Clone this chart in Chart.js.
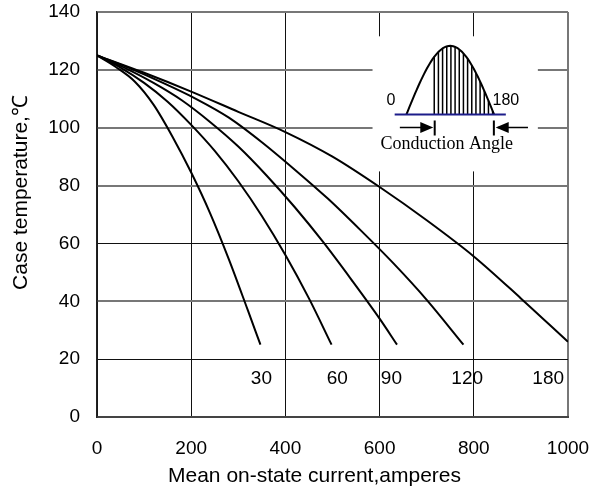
<!DOCTYPE html>
<html lang="en">
<head>
    <meta charset="UTF-8">
    <title>Case temperature vs mean on-state current</title>
    <script src="https://cdn.jsdelivr.net/npm/chart.js"></script>
    <style>
        body { margin: 0; background: #fff; }
        .chart-container { width: 599px; height: 488px; }
    </style>
</head>
<body>
    <div class="chart-container">
        <canvas id="myChart"></canvas>
    </div>
    <script>
        // conduction angles (degrees) and one current/temperature pair of arrays per curve
        const angles = ['30', '60', '90', '120', '180'];

        const current30 = [0, 40, 80, 120, 160, 200, 240, 280, 320, 347];
        const temp30    = [125, 121, 116, 108, 97, 84.5, 70.5, 54.5, 37, 25];

        const current60 = [0, 50, 100, 150, 200, 250, 300, 350, 400, 450, 498];
        const temp60    = [125, 120.8, 115.5, 109, 101, 92, 81.5, 69.5, 56, 41, 25];

        const current90 = [0, 60, 120, 180, 240, 300, 360, 420, 480, 540, 600, 637];
        const temp90    = [125, 120.6, 115.5, 109.5, 102, 93.5, 83.5, 72.5, 60.5, 47.5, 34, 25];

        const current120 = [0, 70, 140, 210, 280, 350, 420, 490, 560, 630, 700, 778];
        const temp120    = [125, 120.5, 115.5, 110, 103.5, 95, 85.5, 75.5, 64.5, 53, 40.5, 25];

        const current180 = [0, 100, 200, 300, 400, 500, 600, 700, 800, 900, 1000];
        const temp180    = [125, 119, 112.5, 105.5, 98.5, 90, 79.5, 68, 55.5, 41, 26];

        // where the angle labels sit under the curves
        const labelCurrent = [349, 510, 625, 786, 958];
        const labelTemp = 13.3;

        const xTicks = [0, 200, 400, 600, 800, 1000];
        const yTicks = [0, 20, 40, 60, 80, 100, 120, 140];

        const curves = [
            [current30, temp30],
            [current60, temp60],
            [current90, temp90],
            [current120, temp120],
            [current180, temp180]
        ];

        const datasets = curves.map((c, i) => ({
            label: angles[i] + '°',
            data: c[0].map((x, j) => ({ x: x, y: c[1][j] })),
            borderColor: '#000',
            borderWidth: 2,
            pointRadius: 0,
            fill: false,
            cubicInterpolationMode: 'monotone'
        }));

        const sans = "'Liberation Sans', Arial, sans-serif";

        // no extra room for the end labels, the plot edges are fixed by layout.padding
        function noPadding(scale) {
            scale.paddingTop = 0;
            scale.paddingBottom = 0;
            scale.paddingLeft = 0;
            scale.paddingRight = 0;
        }

        // inset sketch, angle labels and axis titles
        const overlay = {
            id: 'overlay',
            beforeDatasetsDraw(chart) {
                const ctx = chart.ctx;
                const X = v => chart.scales.x.getPixelForValue(v);
                const Y = v => chart.scales.y.getPixelForValue(v);
                ctx.save();
                // white box that hides the grid behind the sketch
                ctx.fillStyle = '#fff';
                ctx.fillRect(X(585), Y(131.6), X(936) - X(585), Y(84.9) - Y(131.6));

                const a0 = X(657), a1 = X(843), yb = Y(104.6), h = Y(104.6) - Y(128.3);
                // hatching from the firing point to the end
                ctx.strokeStyle = '#000';
                ctx.lineWidth = 1.5;
                for (let x = X(716); x < a1 - 1; x += 4.17) {
                    const t = (x - a0) / (a1 - a0);
                    ctx.beginPath();
                    ctx.moveTo(x, yb);
                    ctx.lineTo(x, yb - h * Math.sin(Math.PI * t));
                    ctx.stroke();
                }
                // half sine wave
                ctx.lineWidth = 2;
                ctx.beginPath();
                for (let i = 0; i <= 60; i++) {
                    const t = i / 60;
                    const px = a0 + (a1 - a0) * t, py = yb - h * Math.sin(Math.PI * t);
                    if (i === 0) ctx.moveTo(px, py); else ctx.lineTo(px, py);
                }
                ctx.stroke();
                // base line
                ctx.strokeStyle = '#1c1c8a';
                ctx.beginPath();
                ctx.moveTo(X(632), yb);
                ctx.lineTo(X(868), yb);
                ctx.stroke();

                ctx.fillStyle = '#000';
                ctx.font = '16px ' + sans;
                ctx.textAlign = 'center';
                ctx.textBaseline = 'middle';
                ctx.fillText('0', X(624), Y(109.5));
                ctx.fillText('180', X(868), Y(109.5));

                // conduction angle arrows
                const ya = Y(100.1);
                ctx.strokeStyle = '#000';
                ctx.lineWidth = 1.5;
                ctx.beginPath();
                ctx.moveTo(X(643), ya); ctx.lineTo(X(705), ya);
                ctx.moveTo(X(851), ya); ctx.lineTo(X(915), ya);
                ctx.stroke();
                const tipL = X(714), tipR = X(846.5);
                ctx.beginPath();
                ctx.moveTo(tipL, ya); ctx.lineTo(tipL - 13, ya - 5.5); ctx.lineTo(tipL - 13, ya + 5.5);
                ctx.closePath();
                ctx.moveTo(tipR, ya); ctx.lineTo(tipR + 13, ya - 5.5); ctx.lineTo(tipR + 13, ya + 5.5);
                ctx.closePath();
                ctx.fill();
                ctx.lineWidth = 2;
                ctx.beginPath();
                ctx.moveTo(X(717), ya - 7); ctx.lineTo(X(717), ya + 8);
                ctx.moveTo(X(842.6), ya - 7); ctx.lineTo(X(842.6), ya + 8);
                ctx.stroke();

                ctx.font = "18px 'Liberation Serif', 'Times New Roman', serif";
                ctx.textBaseline = 'alphabetic';
                ctx.fillText('Conduction Angle', X(742.6), Y(92.5));
                ctx.restore();
            },
            afterDatasetsDraw(chart) {
                const ctx = chart.ctx;
                const X = v => chart.scales.x.getPixelForValue(v);
                const Y = v => chart.scales.y.getPixelForValue(v);
                const area = chart.chartArea;
                ctx.save();
                ctx.fillStyle = '#000';
                ctx.font = '19px ' + sans;
                ctx.textAlign = 'center';
                ctx.textBaseline = 'middle';
                angles.forEach((a, i) => ctx.fillText(a, X(labelCurrent[i]), Y(labelTemp)));

                ctx.font = '21px ' + sans;
                ctx.fillText('Mean on-state current,amperes', (area.left + area.right) / 2 - 18, area.bottom + 59);
                ctx.translate(21, (area.top + area.bottom) / 2 - 22);
                ctx.rotate(-Math.PI / 2);
                ctx.fillText('Case temperature,\u2103', 0, 0);
                ctx.restore();
            }
        };

        const config = {
            type: 'line',
            data: { datasets: datasets },
            options: {
                responsive: true,
                maintainAspectRatio: false,
                animation: false,
                layout: { autoPadding: false, padding: { left: 0, right: 31, top: 12, bottom: 0 } },
                plugins: {
                    legend: { display: false },
                    tooltip: { enabled: false }
                },
                scales: {
                    x: {
                        type: 'linear',
                        min: 0,
                        max: 1000,
                        afterFit: scale => { scale.height = 71; noPadding(scale); },
                        afterBuildTicks: scale => { scale.ticks = xTicks.map(v => ({ value: v })); },
                        ticks: {
                            color: '#000',
                            padding: 20,
                            font: { size: 19, family: sans },
                            maxRotation: 0,
                            callback: v => String(v)
                        },
                        grid: {
                            drawTicks: false,
                            color: ctx => ctx.tick && ctx.tick.value === 1000 ? '#777' : '#111',
                            lineWidth: ctx => ctx.tick && ctx.tick.value === 1000 ? 2 : 1
                        },
                        border: { color: '#444', width: 2 }
                    },
                    y: {
                        min: 0,
                        max: 140,
                        afterFit: scale => { scale.width = 97; noPadding(scale); },
                        afterBuildTicks: scale => { scale.ticks = yTicks.map(v => ({ value: v })); },
                        ticks: { color: '#000', padding: 17, font: { size: 19, family: sans } },
                        grid: {
                            drawTicks: false,
                            color: ctx => ctx.tick && (ctx.tick.value === 20 || ctx.tick.value === 60) ? '#111' : '#777',
                            lineWidth: ctx => ctx.tick && (ctx.tick.value === 20 || ctx.tick.value === 60) ? 1 : 2
                        },
                        border: { color: '#222', width: 1.5 }
                    }
                }
            },
            plugins: [overlay]
        };

        const myChart = new Chart(document.getElementById('myChart'), config);
    </script>
</body>
</html>
